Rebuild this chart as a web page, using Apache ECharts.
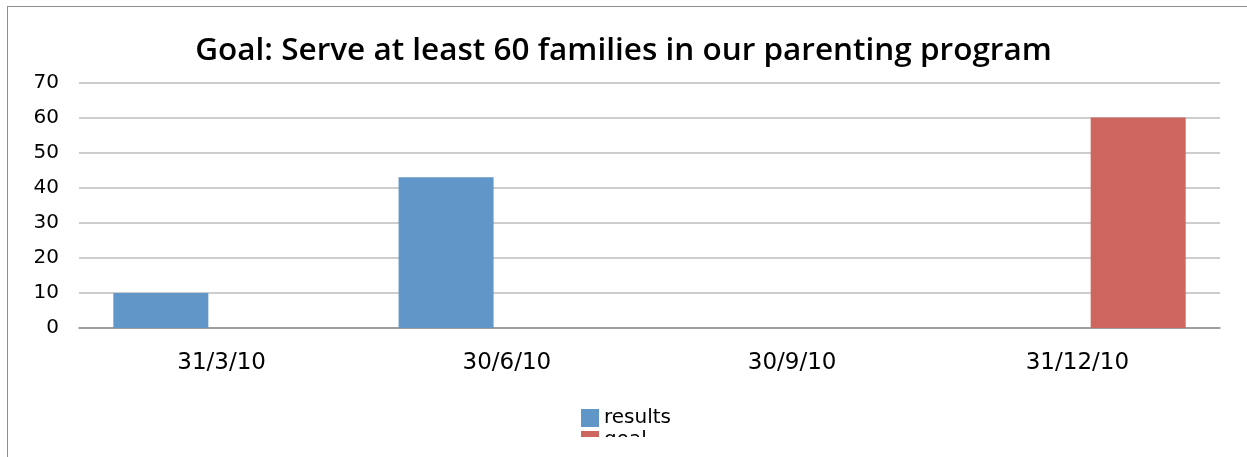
<!DOCTYPE html>
<html>
<head>
<meta charset="utf-8">
<script src="https://cdn.jsdelivr.net/npm/echarts@6/dist/echarts.min.js"></script>
<style>
  html, body { margin: 0; padding: 0; background: #fff; }
  #clip { position: absolute; left: 0; top: 0; width: 1247px; height: 437px; overflow: hidden; }
  #chart { position: absolute; left: 0; top: 0; width: 1247px; height: 457px; }
  #frame { position: absolute; left: 7px; top: 6px; width: 1240px; height: 451px;
           border-top: 1px solid #8f8f8f; border-left: 1px solid #8f8f8f; pointer-events: none; }
</style>
</head>
<body>
<div id="clip"><div id="chart"></div></div>
<div id="frame"></div>
<script>
const titleText = 'Goal: Serve at least 60 families in our parenting program';
const categories = ['31/3/10', '30/6/10', '30/9/10', '31/12/10'];
const resultsValues = [10, 43, null, null];
const goalValues = [null, null, null, 60];
const seriesNames = ['results', 'goal'];

const chart = echarts.init(document.getElementById('chart'), null, { renderer: 'canvas' });
chart.setOption({
  animation: false,
  backgroundColor: 'transparent',
  title: {
    text: titleText,
    left: 'center',
    top: 30,
    textStyle: { fontFamily: 'Open Sans', fontSize: 31.5, fontWeight: 600, color: '#000' }
  },
  legend: {
    orient: 'vertical',
    left: 581,
    top: 408,
    padding: 0,
    itemWidth: 18,
    itemHeight: 18,
    itemGap: 2,
    icon: 'rect',
    data: seriesNames,
    textStyle: { fontFamily: 'DejaVu Sans', fontSize: 20, color: '#000' }
  },
  grid: { left: 79, right: 27, top: 82.5, bottom: 129 },
  xAxis: {
    type: 'category',
    data: categories,
    axisLine: { show: true, lineStyle: { color: '#8f8f8f', width: 1.5 } },
    axisTick: { show: false },
    axisLabel: { fontFamily: 'DejaVu Sans', fontSize: 23, color: '#000', margin: 24 },
    splitLine: { show: false }
  },
  yAxis: {
    type: 'value',
    min: 0,
    max: 70,
    interval: 10,
    axisLine: { show: false },
    axisTick: { show: false },
    axisLabel: { fontFamily: 'DejaVu Sans', fontSize: 20, color: '#000', margin: 20 },
    splitLine: { lineStyle: { color: '#bdbdbd', width: 1.5 } }
  },
  series: [
    { name: seriesNames[0], type: 'bar', data: resultsValues, barWidth: 95, barGap: '28%',
      itemStyle: { color: '#6096C8' } },
    { name: seriesNames[1], type: 'bar', data: goalValues, barWidth: 95,
      itemStyle: { color: '#CD665F' } }
  ]
});
</script>
</body>
</html>
